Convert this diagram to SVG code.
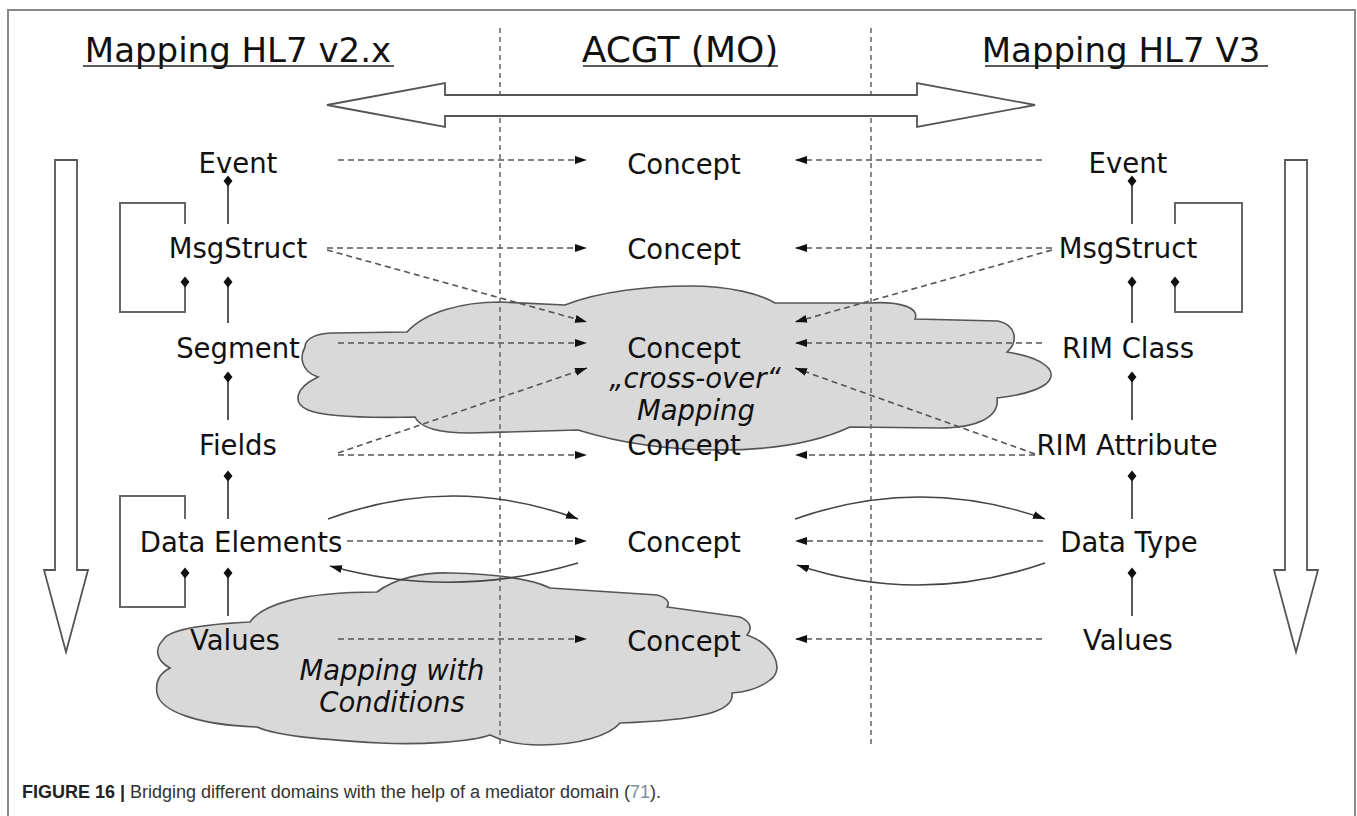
<svg xmlns="http://www.w3.org/2000/svg" width="1357" height="816" viewBox="0 0 1357 816">
<defs>
<style>
.lbl{font-family:"DejaVu Sans",Verdana,sans-serif;font-size:27.5px;fill:#111;text-anchor:middle}
.ital{font-style:italic}
.title{font-family:"DejaVu Sans",Verdana,sans-serif;font-size:34px;fill:#111;text-anchor:middle}
.uline{stroke:#222;stroke-width:1.6}
.dash{fill:none;stroke:#555;stroke-width:1.6;stroke-dasharray:6 4}
.vdash{fill:none;stroke:#666;stroke-width:1.5;stroke-dasharray:5 4}
.solid{fill:none;stroke:#444;stroke-width:1.6}
.comp{fill:none;stroke:#222;stroke-width:1.5}
.bracket{fill:none;stroke:#666;stroke-width:2}
.big{fill:#fff;stroke:#555;stroke-width:1.8}
.cloud{fill:#d9d9d9;stroke:#555;stroke-width:1.6}
.cap{font-family:"Liberation Sans",Arial,sans-serif;font-size:18px;fill:#333}
</style>
<marker id="ah" markerUnits="userSpaceOnUse" markerWidth="12" markerHeight="10" viewBox="0 0 12 10" refX="12" refY="5" orient="auto">
<path d="M0,1 L12,5 L0,9 z" fill="#111"/>
</marker>
<path id="dia" d="M0,-5.5 L4.5,0 L0,5.5 L-4.5,0 z" fill="#111"/>
</defs>
<rect width="1357" height="816" fill="#fff"/>
<path d="M8,816 V10 H1355 V816" fill="none" stroke="#888" stroke-width="2"/>

<g id="clouds">
<path id="cloud-crossover" class="cloud" d="M305,347 C305,338 318,333 333,333 L407,332 C425,312 462,302 500,302 L565,305 C600,291 650,286 690,286 C730,286 760,294 775,303 L870,303 C900,301 920,308 915,319 L998,321 C1016,325 1019,341 1007,352 C1045,358 1060,372 1046,384 C1035,392 1015,396 997,398 C1000,418 975,428 940,428 L850,427 C820,441 780,450 720,450 C660,450 610,440 578,430 L470,433 C440,433 420,428 415,417 C370,418 325,417 308,410 C292,403 295,388 318,377 C300,371 300,356 305,347 Z"/>
<path id="cloud-conditions" class="cloud" d="M163,640 C170,628 210,624 250,622 C262,605 300,592 377,592 C395,578 425,572 450,573 C490,574 530,578 550,588 L657,595 C668,598 670,603 667,607 L740,617 C752,622 752,630 747,635 C775,645 785,670 770,680 C760,688 745,692 732,693 C735,712 700,720 620,723 C610,735 580,745 540,745 C515,745 500,740 490,735 C470,742 420,745 380,743 C330,740 280,737 257,727 C200,725 160,712 157,693 C155,680 162,672 170,668 C155,660 155,648 163,640 Z"/>
</g>

<g id="titles">
<text class="title" x="238" y="62">Mapping HL7 v2.x</text>
<line class="uline" x1="83" y1="66" x2="394" y2="66"/>
<text class="title" x="680" y="62" style="font-size:36px">ACGT (MO)</text>
<line class="uline" x1="583" y1="66" x2="778" y2="66"/>
<text class="title" x="1121" y="62">Mapping HL7 V3</text>
<line class="uline" x1="985" y1="66" x2="1268" y2="66"/>
</g>

<g id="swimlanes">
<line class="vdash" x1="500" y1="28" x2="500" y2="748"/>
<line class="vdash" x1="871" y1="28" x2="871" y2="748"/>
</g>

<g id="big-arrows">
<path id="double-arrow" class="big" d="M327,105 L445,83 L445,95 L917,95 L917,83 L1035,105 L917,127 L917,116 L445,116 L445,127 Z"/>
<path id="down-arrow-left" class="big" d="M55,160 L77,160 L77,570 L88,570 L66,652 L44,570 L55,570 Z"/>
<path id="down-arrow-right" class="big" d="M1285,160 L1307,160 L1307,570 L1318,570 L1296,652 L1274,570 L1285,570 Z"/>
</g>

<g id="left-nodes">
<g id="l-event"><text class="lbl" x="238" y="173">Event</text></g>
<g id="l-msgstruct"><text class="lbl" x="238" y="258">MsgStruct</text></g>
<g id="l-segment"><text class="lbl" x="238" y="358">Segment</text></g>
<g id="l-fields"><text class="lbl" x="238" y="455">Fields</text></g>
<g id="l-dataelements"><text class="lbl" x="241" y="552">Data Elements</text></g>
<g id="l-values"><text class="lbl" x="235" y="650">Values</text></g>
</g>

<g id="center-nodes">
<g id="c1"><text class="lbl" x="684" y="174">Concept</text></g>
<g id="c2"><text class="lbl" x="684" y="259">Concept</text></g>
<g id="c3"><text class="lbl" x="684" y="358">Concept</text></g>
<g id="c4"><text class="lbl" x="684" y="455">Concept</text></g>
<g id="c5"><text class="lbl" x="684" y="552">Concept</text></g>
<g id="c6"><text class="lbl" x="684" y="651">Concept</text></g>
<g id="crossover-label"><text class="lbl ital" x="695" y="388">„cross-over“</text><text class="lbl ital" x="696" y="420">Mapping</text></g>
<g id="conditions-label"><text class="lbl ital" x="392" y="680">Mapping with</text><text class="lbl ital" x="392" y="712">Conditions</text></g>
</g>

<g id="right-nodes">
<g id="r-event"><text class="lbl" x="1128" y="173">Event</text></g>
<g id="r-msgstruct"><text class="lbl" x="1128" y="258">MsgStruct</text></g>
<g id="r-rimclass"><text class="lbl" x="1128" y="358">RIM Class</text></g>
<g id="r-rimattribute"><text class="lbl" x="1127" y="455">RIM Attribute</text></g>
<g id="r-datatype"><text class="lbl" x="1129" y="552">Data Type</text></g>
<g id="r-values"><text class="lbl" x="1128" y="650">Values</text></g>
</g>

<g id="connectors">
<line class="comp" x1="228" y1="181" x2="228" y2="224"/><use href="#dia" x="228" y="181"/>
<line class="comp" x1="228" y1="282" x2="228" y2="323"/><use href="#dia" x="228" y="282"/>
<line class="comp" x1="228" y1="377" x2="228" y2="420"/><use href="#dia" x="228" y="377"/>
<line class="comp" x1="228" y1="476" x2="228" y2="519"/><use href="#dia" x="228" y="476"/>
<line class="comp" x1="228" y1="573" x2="228" y2="616"/><use href="#dia" x="228" y="573"/>
<path class="bracket" d="M185,224 V203 H120 V312 H185 V282"/><use href="#dia" x="185" y="282"/>
<path class="bracket" d="M185,519 V496 H120 V607 H185 V573"/><use href="#dia" x="185" y="573"/>
<line class="comp" x1="1132" y1="181" x2="1132" y2="224"/><use href="#dia" x="1132" y="181"/>
<line class="comp" x1="1132" y1="282" x2="1132" y2="323"/><use href="#dia" x="1132" y="282"/>
<line class="comp" x1="1132" y1="377" x2="1132" y2="420"/><use href="#dia" x="1132" y="377"/>
<line class="comp" x1="1132" y1="476" x2="1132" y2="519"/><use href="#dia" x="1132" y="476"/>
<line class="comp" x1="1132" y1="573" x2="1132" y2="616"/><use href="#dia" x="1132" y="573"/>
<path class="bracket" d="M1175,224 V203 H1242 V312 H1175 V282"/><use href="#dia" x="1175" y="282"/>

<line class="dash" x1="338" y1="160" x2="587" y2="160" marker-end="url(#ah)"/>
<line class="dash" x1="1042" y1="160" x2="795" y2="160" marker-end="url(#ah)"/>
<line class="dash" x1="327" y1="248" x2="587" y2="248" marker-end="url(#ah)"/>
<line class="dash" x1="1052" y1="248" x2="795" y2="248" marker-end="url(#ah)"/>
<line class="dash" x1="327" y1="250" x2="587" y2="322" marker-end="url(#ah)"/>
<line class="dash" x1="1052" y1="250" x2="795" y2="322" marker-end="url(#ah)"/>
<line class="dash" x1="338" y1="343" x2="587" y2="343" marker-end="url(#ah)"/>
<line class="dash" x1="1042" y1="343" x2="795" y2="343" marker-end="url(#ah)"/>
<line class="dash" x1="338" y1="453" x2="587" y2="368" marker-end="url(#ah)"/>
<line class="dash" x1="1035" y1="454" x2="795" y2="368" marker-end="url(#ah)"/>
<line class="dash" x1="338" y1="455" x2="587" y2="455" marker-end="url(#ah)"/>
<line class="dash" x1="1035" y1="455" x2="795" y2="455" marker-end="url(#ah)"/>
<line class="dash" x1="347" y1="541" x2="587" y2="541" marker-end="url(#ah)"/>
<line class="dash" x1="1043" y1="541" x2="795" y2="541" marker-end="url(#ah)"/>
<line class="dash" x1="338" y1="639" x2="587" y2="639" marker-end="url(#ah)"/>
<line class="dash" x1="1042" y1="639" x2="795" y2="639" marker-end="url(#ah)"/>

<path class="solid" d="M328,519 Q453,473 578,519" marker-end="url(#ah)"/>
<path class="solid" d="M578,563 Q453,600 330,566" marker-end="url(#ah)"/>
<path class="solid" d="M795,519 Q920,475 1045,519" marker-end="url(#ah)"/>
<path class="solid" d="M1045,563 Q920,606 797,565" marker-end="url(#ah)"/>
</g>

<g id="caption">
<text class="cap" x="22" y="798"><tspan font-weight="bold" fill="#222">FIGURE 16 | </tspan>Bridging different domains with the help of a mediator domain (<tspan fill="#7d8fa3">71</tspan>).</text>
</g>
</svg>
